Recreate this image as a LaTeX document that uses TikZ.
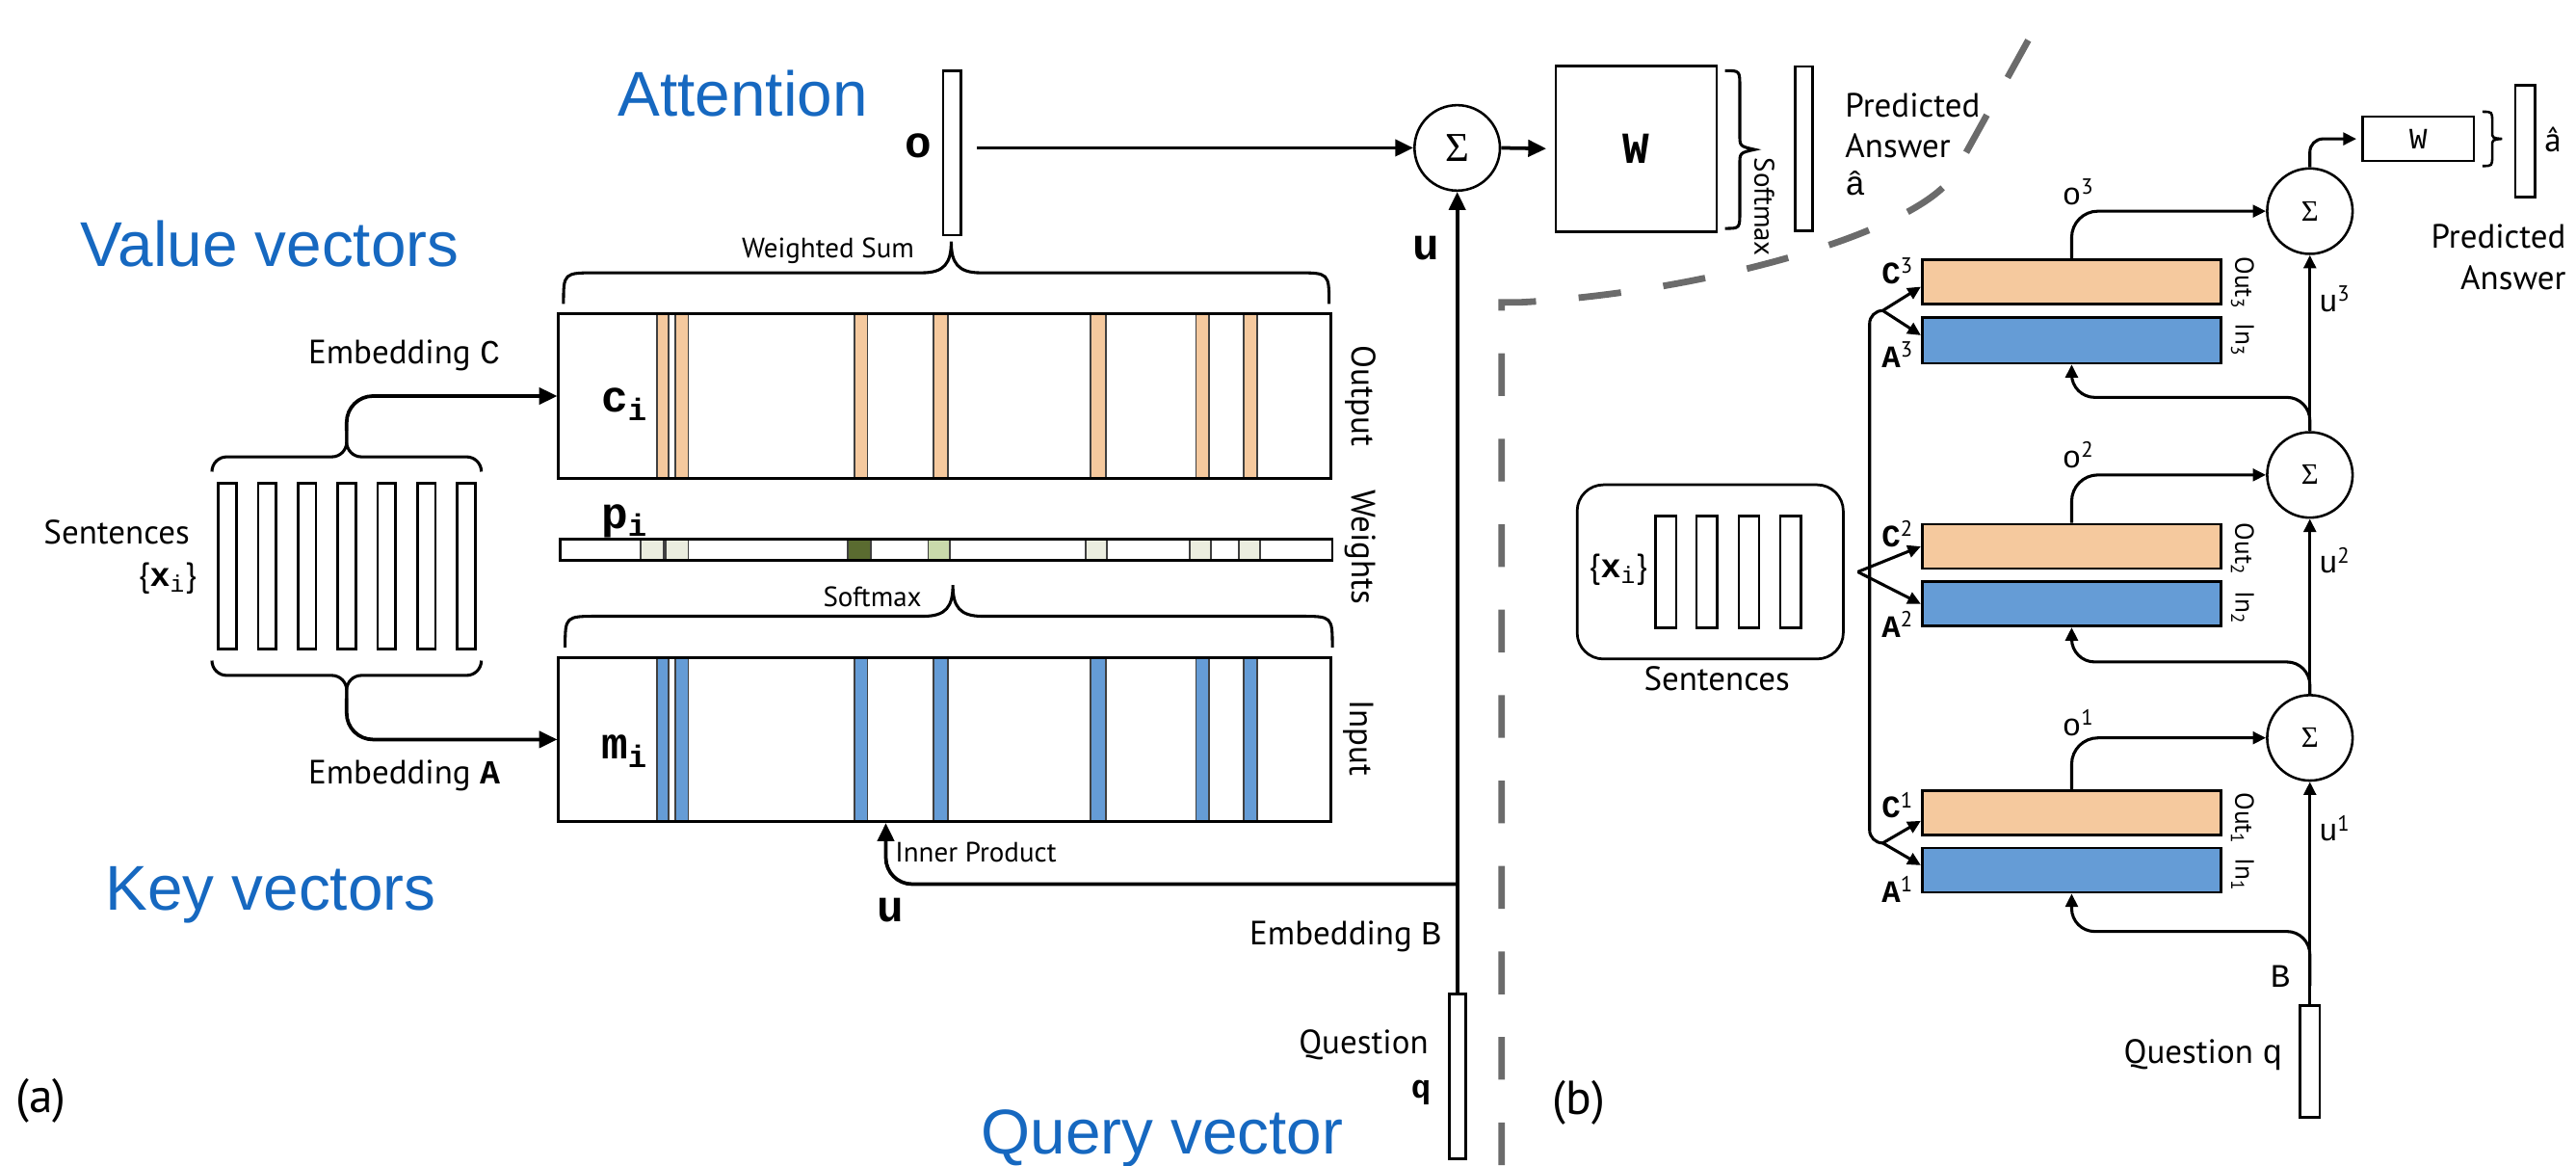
\documentclass[tikz,border=0pt]{standalone}
\usepackage{fontspec}
\setmainfont{PT Sans}
\setmonofont{Liberation Mono}
\newfontfamily\bluefont{Liberation Sans}
\newfontfamily\sigfont{Liberation Serif}
\usetikzlibrary{arrows.meta}
\definecolor{ora}{HTML}{F5C99E}
\definecolor{blu}{HTML}{659CD6}
\definecolor{pale}{HTML}{EBEDDF}
\definecolor{dgr}{HTML}{5A6B30}
\definecolor{lgr}{HTML}{C9DAAB}
\definecolor{btxt}{HTML}{1668C0}
\definecolor{dgray}{HTML}{6B6B6B}
\newcommand\myfs[1]{\fontsize{#1}{#1}\selectfont}
\begin{document}
\begin{tikzpicture}[x=1pt,y=-1pt,
  lbl/.style={inner sep=0pt, font=\myfs{20.5}},
  sml/.style={inner sep=0pt, font=\myfs{17}},
  mono/.style={inner sep=0pt, font=\ttfamily\bfseries\myfs{27}},
  monoS/.style={inner sep=0pt, font=\ttfamily\bfseries\myfs{19}},
  bluelbl/.style={inner sep=0pt, anchor=base west, text=btxt, font=\bluefont\myfs{38.5}},
  bx/.style={draw, line width=1.6pt, inner sep=0pt},
  stripe/.style={draw=black!75, line width=1.1pt},
  arr/.style={line width=2.2pt, -{Triangle[length=11pt,width=10pt]}},
  arrs/.style={line width=1.8pt, -{Triangle[length=8pt,width=7.5pt]}},
  ln/.style={line width=1.8pt},
  brc/.style={line width=1.8pt},
  sumc/.style={circle, draw, line width=1.5pt, minimum size=52pt, inner sep=0pt, font=\sigfont\myfs{25}},
  sumb/.style={circle, draw, line width=1.5pt, minimum size=52pt, inner sep=0pt, font=\sigfont\myfs{18}},
]
\useasboundingbox (0,0) rectangle (1568,709);

% ---------- blue annotations ----------
\node[bluelbl] (tAtt) at (376,70.4) {Attention};
\node[bluelbl] (tVal) at (48.8,162) {Value vectors};
\node[bluelbl] (tKey) at (64,554) {Key vectors};
\node[bluelbl] (tQry) at (597,702.3) {Query vector};

% ---------- dashed separator ----------
\draw[dgray, line width=4pt, dash pattern=on 26pt off 26pt]
  (914,709) -- (914,184) -- (925,184) .. controls (1040,178) and (1171,140) .. (1190,105) -- (1247,2);

% ================= panel (a) =================
\node[lbl, font=\myfs{29}] (la) at (25,670) {(a)};

% sentences
\foreach \k in {0,...,6}
  \node[bx, minimum width=11pt, minimum height=101pt] (s\k) at ({138.5+24.2*\k},344.5) {};
\node[lbl] (tSen) at (71,324) {Sentences};
\node[lbl] (tXi) at (102,352) {\{{\ttfamily\bfseries x}\textsubscript{\ttfamily i}\}};

% stripes and cells
\foreach \a/\b in {400/407,411/419,520/528,568/577,664/673,728/736,757/765} {
  \draw[stripe, fill=ora] (\a,191) rectangle (\b,291);
  \draw[stripe, fill=blu] (\a,400) rectangle (\b,500);
}
\foreach \a/\b/\c in {390/404/pale,405/419/pale,516/530/dgr,565/578/lgr,661/674/pale,724/737/pale,754/767/pale}
  \draw[stripe, fill=\c] (\a,328) rectangle (\b,341);

\node[bx, minimum width=470pt, minimum height=100pt] (out) at (575,241) {};
\node[bx, minimum width=470pt, minimum height=13pt] (wts) at (576,334.5) {};
\node[bx, minimum width=470pt, minimum height=100pt] (inp) at (575,450) {};

\node[mono] (tci) at (380,246) {c\textsubscript{i}};
\node[mono] (tpi) at (380,317) {p\textsubscript{i}};
\node[mono] (tmi) at (380,457) {m\textsubscript{i}};
\node[lbl, rotate=-90] (tOut) at (828,241) {Output};
\node[lbl, rotate=-90] (tWt) at (828,333) {Weights};
\node[lbl, rotate=-90] (tIn) at (827,449) {Input};

% sentence braces and embeddings
\draw[brc, rounded corners=9] (129,287) -- (129,278) -- (211,278) -- (211,262);
\draw[brc, rounded corners=9] (293,287) -- (293,278) -- (211,278) -- (211,262);
\coordinate (tC) at (211,262);
\draw[arr, rounded corners=16] (tC) |- (out.west);
\draw[brc, rounded corners=9] (129,402) -- (129,411) -- (211,411) -- (211,425);
\draw[brc, rounded corners=9] (293,402) -- (293,411) -- (211,411) -- (211,425);
\coordinate (tA) at (211,425);
\draw[arr, rounded corners=16] (tA) |- (inp.west);
\node[lbl] (tEC) at (246,216) {Embedding {\ttfamily C}};
\node[lbl] (tEA) at (246,472) {Embedding {\ttfamily\bfseries A}};

% weighted sum / softmax braces
\draw[brc] (343,185) .. controls (343,166) .. (363,166) -- (561,166)
  .. controls (575,166) and (579,160) .. (579,147)
  .. controls (579,160) and (583,166) .. (597,166) -- (789,166)
  .. controls (809,166) .. (809,185);
\node[sml] (tWS) at (504,152.5) {Weighted Sum};
\draw[brc] (344,394) .. controls (344,375) .. (364,375) -- (562,375)
  .. controls (576,375) and (580,369) .. (580,356)
  .. controls (580,369) and (584,375) .. (598,375) -- (791,375)
  .. controls (811,375) .. (811,394);
\node[sml] (tSm) at (531,363) {Softmax};

% o, sum, W, answer
\node[bx, minimum width=11pt, minimum height=100pt] (obar) at (579.5,93) {};
\node[mono] (to) at (559,89) {o};
\node[sumc] (sumA) at (887,90) {Σ};
\draw[arr, shorten <=9pt] (obar.east |- sumA.west) -- (sumA.west);
\node[bx, minimum width=98pt, minimum height=101pt, font=\ttfamily\bfseries\myfs{27}] (Wa) at (996,90.5) {W};
\draw[arr, shorten >=5pt] (sumA.east) -- (Wa.west);
\draw[brc] (1050,43) .. controls (1059,43) .. (1059,53) -- (1059,82)
  .. controls (1059,89) .. (1068,91) .. controls (1059,93) .. (1059,100)
  -- (1059,129) .. controls (1059,139) .. (1050,139);
\node[sml, rotate=-90] (tSm2) at (1074,126) {Softmax};
\node[bx, minimum width=10.5pt, minimum height=100pt] (ansA) at (1098,90.5) {};
\node[lbl, anchor=base west] (tP1) at (1123,71) {Predicted};
\node[lbl, anchor=base west] (tP2) at (1123,96) {Answer};
\node[lbl, anchor=base west] (tP3) at (1123,119) {\ttfamily â};

% question and u
\node[bx, minimum width=10pt, minimum height=100pt] (qa) at (887,655) {};
\draw[arr] (qa.north) -- (sumA.south);
\node[mono] (tu) at (868,151) {u};
\coordinate (ju) at (887,538);
\draw[arr, rounded corners=16] (ju) -| ([xshift=200pt]inp.south west);
\node[sml] (tIP) at (594,518.5) {Inner Product};
\node[mono] (tu2) at (542,554) {u};
\node[lbl] (tEB) at (819,570) {Embedding {\ttfamily B}};
\node[lbl] (tQ) at (830,636) {Question};
\node[mono, font=\ttfamily\bfseries\myfs{20}] (tq) at (865,665) {q};

% ================= panel (b) =================
\node[lbl, font=\myfs{29}] (lb) at (961,671) {(b)};

\node[bx, rounded corners=16pt, minimum width=162pt, minimum height=106pt] (sbox) at (1041,348) {};
\foreach \k/\x in {1/1014,2/1039,3/1064.5,4/1090}
  \node[bx, line width=1.4pt, minimum width=12.5pt, minimum height=68pt] (sb\k) at (\x,348) {};
\node[lbl] (tXi2) at (985,347) {\{{\ttfamily\bfseries x}\textsubscript{\ttfamily i}\}};
\node[lbl] (tSen2) at (1045,413) {Sentences};

\node[bx, fill=ora, minimum width=182pt, minimum height=27pt] (C3) at (1261,171.5) {};
\node[bx, fill=blu, minimum width=182pt, minimum height=28pt] (A3) at (1261,207) {};
\node[bx, fill=ora, minimum width=182pt, minimum height=27pt] (C2) at (1261,332.5) {};
\node[bx, fill=blu, minimum width=182pt, minimum height=27pt] (A2) at (1261,367.5) {};
\node[bx, fill=ora, minimum width=182pt, minimum height=27pt] (C1) at (1261,494.5) {};
\node[bx, fill=blu, minimum width=182pt, minimum height=27pt] (A1) at (1261,529.5) {};

\node[monoS] (lC3) at (1155,165) {C\textsuperscript{\rmfamily\mdseries 3}};
\node[monoS] (lA3) at (1155,216) {A\textsuperscript{\rmfamily\mdseries 3}};
\node[monoS] (lC2) at (1155,325) {C\textsuperscript{\rmfamily\mdseries 2}};
\node[monoS] (lA2) at (1155,380) {A\textsuperscript{\rmfamily\mdseries 2}};
\node[monoS] (lC1) at (1155,490) {C\textsuperscript{\rmfamily\mdseries 1}};
\node[monoS] (lA1) at (1155,541) {A\textsuperscript{\rmfamily\mdseries 1}};

\node[lbl, font=\myfs{16}, rotate=-90] (lO3) at (1365,172) {Out\textsubscript{3}};
\node[lbl, font=\myfs{16}, rotate=-90] (lI3) at (1365,207) {In\textsubscript{3}};
\node[lbl, font=\myfs{16}, rotate=-90] (lO2) at (1365,334) {Out\textsubscript{2}};
\node[lbl, font=\myfs{16}, rotate=-90] (lI2) at (1365,370) {In\textsubscript{2}};
\node[lbl, font=\myfs{16}, rotate=-90] (lO1) at (1365,498) {Out\textsubscript{1}};
\node[lbl, font=\myfs{16}, rotate=-90] (lI1) at (1365,532) {In\textsubscript{1}};

\node[sumb] (S3) at (1406,128.5) {Σ};
\node[sumb] (S2) at (1406,289) {Σ};
\node[sumb] (S1) at (1406,449) {Σ};

% forks from sentences
\coordinate (f3) at (1146,189);
\coordinate (f1) at (1146,513);
\coordinate (f2) at ([xshift=8pt]sbox.east);
\draw[ln, rounded corners=8] (f3) -- (1138,189) -- (1138,513) -- (f1);
\draw[arrs] (f3) -- ([yshift=-3pt]C3.west);
\draw[arrs] (f3) -- ([yshift=3pt]A3.west);
\draw[arrs] (f2) -- (C2.west);
\draw[arrs] (f2) -- (A2.west);
\draw[arrs] (f1) -- ([yshift=-5pt]C1.west);
\draw[arrs] (f1) -- ([yshift=3pt]A1.west);

% o arcs
\draw[arrs, rounded corners=16] (C1.north) |- (S1.west);
\draw[arrs, rounded corners=16] (C2.north) |- (S2.west);
\draw[arrs, rounded corners=16] (C3.north) |- (S3.west);
\node[monoS, font=\ttfamily\myfs{19}] (lo1) at (1265,440) {o\textsuperscript{\rmfamily 1}};
\node[monoS, font=\ttfamily\myfs{19}] (lo2) at (1265,277) {o\textsuperscript{\rmfamily 2}};
\node[monoS, font=\ttfamily\myfs{19}] (lo3) at (1265,117) {o\textsuperscript{\rmfamily 3}};

% question and u path
\node[bx, line width=1.4pt, minimum width=12pt, minimum height=68pt] (qb) at (1406,646) {};
\draw[arrs] (qb.north) -- (S1.south);
\draw[arrs] (S1.north) -- (S2.south);
\draw[arrs] (S2.north) -- (S3.south);
\coordinate (jb) at (1406,600);
\draw[arrs, rounded corners=14] (jb) |- ([yshift=-23pt]A1.south) -- (A1.south);
\draw[arrs, rounded corners=14] (S1.north) |- ([yshift=-21pt]A2.south) -- (A2.south);
\draw[arrs, rounded corners=14] (S2.north) |- ([yshift=-20pt]A3.south) -- (A3.south);
\node[monoS, font=\ttfamily\myfs{19}] (lu1) at (1421,504) {u\textsuperscript{\rmfamily 1}};
\node[monoS, font=\ttfamily\myfs{19}] (lu2) at (1421,341) {u\textsuperscript{\rmfamily 2}};
\node[monoS, font=\ttfamily\myfs{19}] (lu3) at (1421,182) {u\textsuperscript{\rmfamily 3}};
\node[monoS, font=\ttfamily\myfs{20}] (lB) at (1388,594) {B};
\node[lbl] (tQ2) at (1341,642) {Question {\ttfamily q}};

% output
\node[bx, line width=1.4pt, minimum width=68pt, minimum height=27pt, font=\ttfamily\myfs{18}] (Wb) at (1472,84.5) {W};
\draw[arrs, rounded corners=8, shorten >=3pt] (S3.north) |- (Wb.west);
\draw[brc, line width=1.5pt] (1511,68) .. controls (1517,68) .. (1517,74) -- (1517,80)
  .. controls (1517,84) .. (1523,84.5) .. controls (1517,85) .. (1517,89)
  -- (1517,95) .. controls (1517,101) .. (1511,101);
\node[bx, line width=1.4pt, minimum width=12pt, minimum height=68pt] (ab) at (1537,86) {};
\node[lbl] (tah) at (1554,85) {â};
\node[lbl, anchor=base east] (tPb1) at (1562,151) {Predicted};
\node[lbl, anchor=base east] (tPb2) at (1562,176) {Answer};
\end{tikzpicture}
\end{document}
